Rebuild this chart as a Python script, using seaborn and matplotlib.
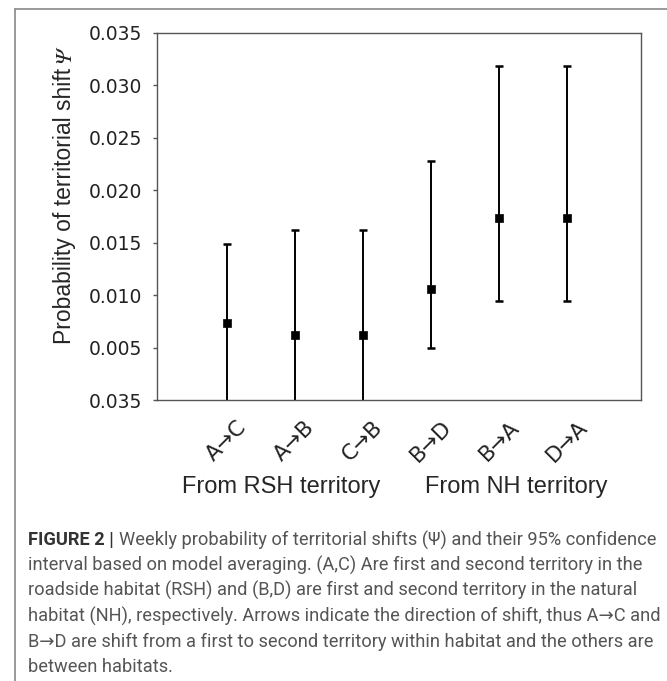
import numpy as np
import matplotlib.pyplot as plt
import pandas as pd
import seaborn as sb
from matplotlib.lines import Line2D

shifts = ["A→C", "A→B", "C→B", "B→D", "B→A", "D→A"]
psi = [0.00733, 0.00619, 0.00619, 0.0106, 0.01739, 0.01739]
upper = [0.01491, 0.01624, 0.01618, 0.02284, 0.03188, 0.03188]
lower = [-0.0005, -0.0035, -0.0035, 0.00492, 0.00942, 0.00942]
yticks = [0.0, 0.005, 0.010, 0.015, 0.020, 0.025, 0.030, 0.035]
ylabels = ["0.035", "0.005", "0.010", "0.015", "0.020", "0.025", "0.030", "0.035"]
groups = ["From RSH territory", "From NH territory"]
caption = [
    "Weekly probability of territorial shifts (Ψ) and their 95% confidence",
    "interval based on model averaging. (A,C) Are first and second territory in the",
    "roadside habitat (RSH) and (B,D) are first and second territory in the natural",
    "habitat (NH), respectively. Arrows indicate the direction of shift, thus A→C and",
    "B→D are shift from a first to second territory within habitat and the others are",
    "between habitats.",
]

df = pd.DataFrame({"shift": shifts, "psi": psi, "upper": upper, "lower": lower})

sb.set_theme(style="white")
plt.rcParams["font.family"] = ["Liberation Sans", "DejaVu Sans"]

fig = plt.figure(figsize=(6.67, 6.81), dpi=100)
ax = fig.add_axes([157/667, 1-400/681, (641-157)/667, (400-33)/681])

sb.scatterplot(x="shift", y="psi", data=df, marker="s", s=36, color="black",
               edgecolor="black", zorder=3, ax=ax)
x = np.arange(len(df))
ax.errorbar(x, df.psi, yerr=[df.psi-df.lower, df.upper-df.psi], fmt="none",
            ecolor="black", elinewidth=1.4, capsize=2.8, capthick=1.8, zorder=2)

ax.set_xlim(-1.02, 6.08)
ax.set_ylim(0, 0.035)
ax.tick_params(axis="y", length=3, width=1, color="#555555", pad=8, left=True)
ax.tick_params(axis="x", length=0, pad=12)
ax.set_yticks(yticks)
ax.set_yticklabels(ylabels)
ax.set_xticks(x)
ax.set_xticklabels(shifts)
for lab in ax.get_yticklabels():
    lab.set_fontfamily("DejaVu Sans")
    lab.set_fontsize(13.5)
    lab.set_color("#222222")
for lab in ax.get_xticklabels():
    lab.set_fontfamily("DejaVu Sans")
    lab.set_fontsize(15.5)
    lab.set_rotation(45)
    lab.set_ha("center")
    lab.set_color("#222222")
ax.set_xlabel("")
ax.set_ylabel("Probability of territorial shift", fontsize=16.5, labelpad=9)
ax.yaxis.label.set_y(0.53)
for sp in ax.spines.values():
    sp.set_color("#555555")
    sp.set_linewidth(1)

fig.canvas.draw()
lb = ax.yaxis.label.get_window_extent()
fig.text((lb.x0 + lb.x1)/2/667, (lb.y1 + 4)/681, "Ψ", rotation=90, ha="center",
         va="bottom", fontsize=16, family="STIXGeneral", style="italic")

fig.text(281/667, 1-487/681, groups[0], ha="center", va="center", fontsize=17)
fig.text(516/667, 1-487/681, groups[1], ha="center", va="center", fontsize=17)

# frame around the figure
fig.add_artist(Line2D([15/667, 1], [1-9/681, 1-9/681], color="#888888", lw=1.2))
fig.add_artist(Line2D([15/667, 15/667], [0, 1-9/681], color="#888888", lw=1.2))

# caption: fit the first line to the reference width
cap_font = ["Roboto", "DejaVu Sans"]
t = fig.text(28/667, 1-540/681, "FIGURE 2 |", fontsize=13, fontweight="bold",
             color="#333333", va="center", family=cap_font)
t2 = fig.text(0, 1-540/681, caption[0], fontsize=13, color="#555555",
              va="center", family=cap_font)
fig.canvas.draw()
w = t.get_window_extent().width + 5 + t2.get_window_extent().width
fs = 13 * (653 - 28) / w
t.set_fontsize(fs)
t2.set_fontsize(fs)
fig.canvas.draw()
bb = t.get_window_extent()
t2.set_x((bb.x1 + 5)/667)
for i, line in enumerate(caption[1:]):
    fig.text(28/667, 1-(565.5 + 25.4*i)/681, line, fontsize=fs, color="#555555",
             va="center", family=cap_font)

fig.savefig("out.png", dpi=100)
